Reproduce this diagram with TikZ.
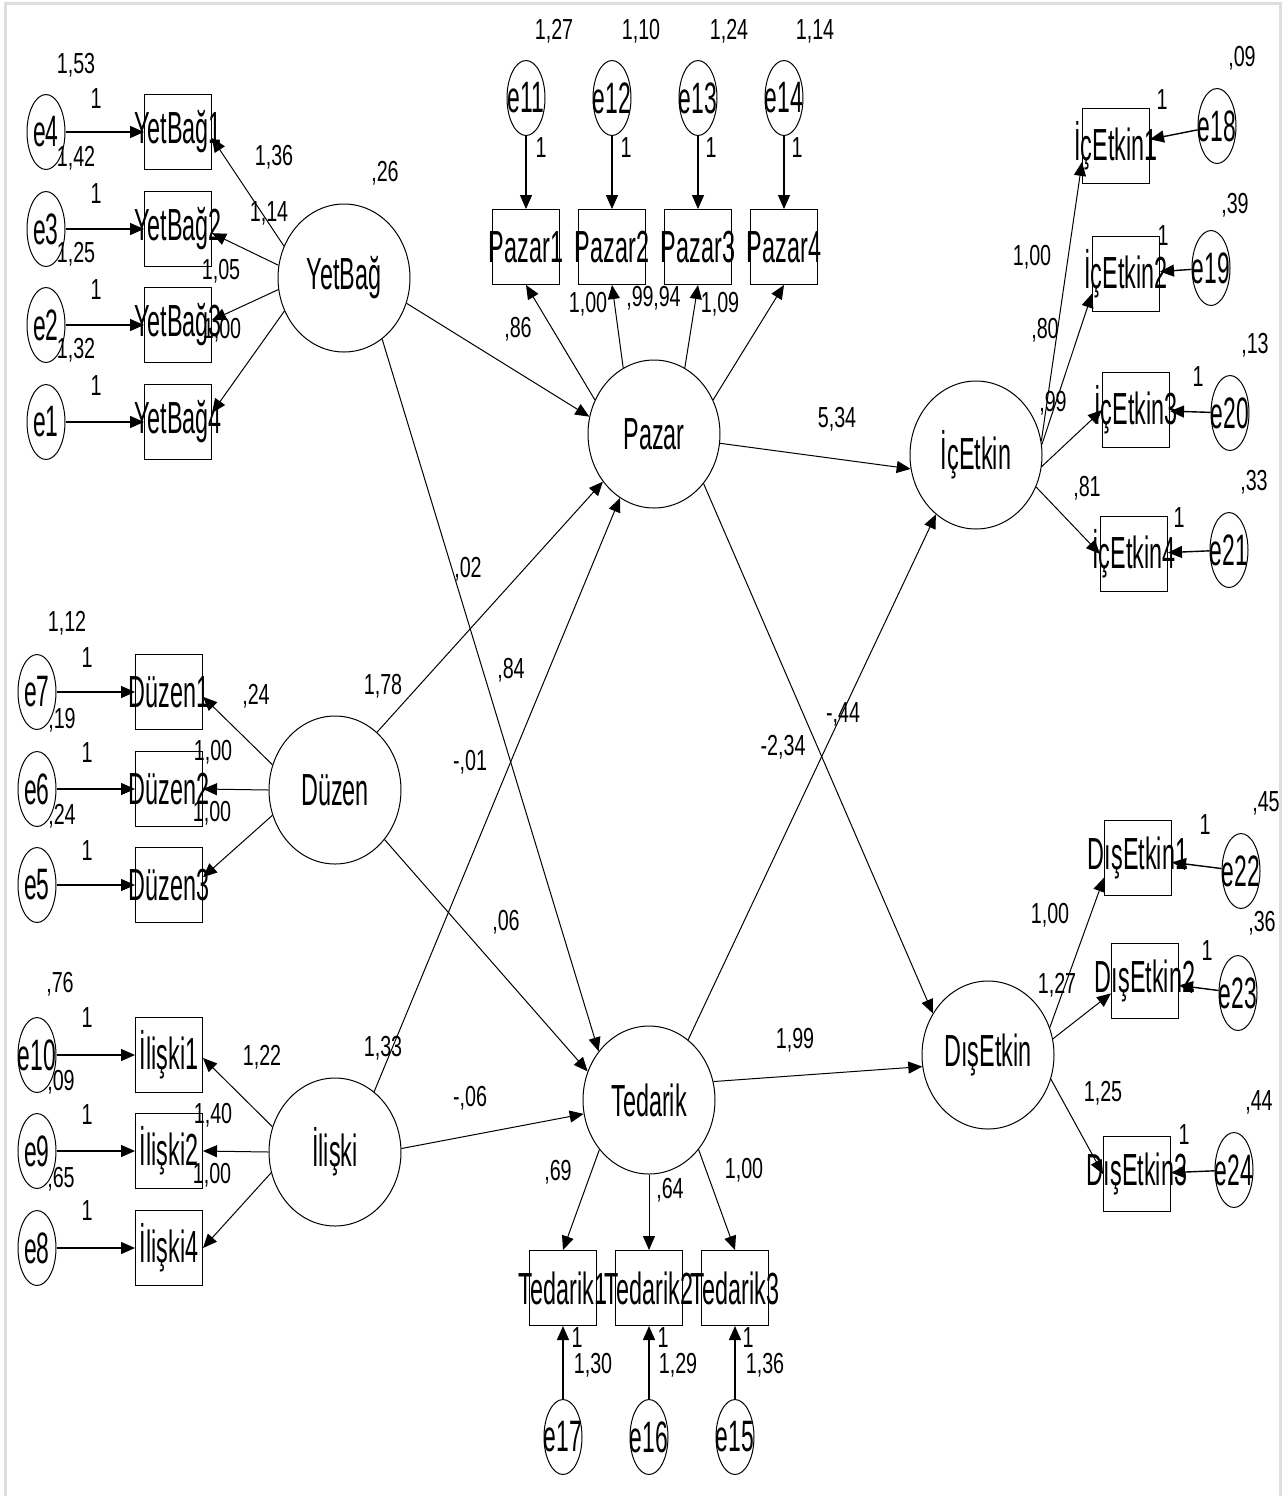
\documentclass[tikz,border=0pt]{standalone}
\usepackage{fontspec}
\setmainfont{Liberation Sans}[FakeStretch=0.52]
\newfontfamily\numfont{Liberation Sans}[FakeStretch=0.68]
\usetikzlibrary{shapes.geometric,arrows.meta}
\begin{document}
\begin{tikzpicture}[x=0.5pt,y=-0.5pt,
		every node/.append style={execute at begin node={\hbox to 0pt\bgroup\hss},execute at end node={\hss\egroup}},
		lat/.style={ellipse,draw,line width=0.5pt,minimum width=66pt,minimum height=74pt,inner sep=0pt,font=\fontsize{22.5}{22.5}\selectfont},
		err/.style={ellipse,draw,line width=0.5pt,minimum width=19pt,minimum height=37.5pt,inner sep=0pt,font=\fontsize{22}{22}\selectfont},
		obs/.style={rectangle,draw,line width=0.5pt,minimum width=33.5pt,minimum height=37.5pt,inner sep=0pt,font=\fontsize{22.5}{22.5}\selectfont},
		num/.style={inner sep=0pt,font=\numfont\fontsize{14.5}{14.5}\selectfont},
		arr/.style={-{Triangle[length=7pt,width=6pt]},line width=0.5pt}
	]
	\useasboundingbox (0,0) rectangle (1283,1496);
	\draw[black!13,line width=1.5pt] (5,1496) -- (5,3) -- (1280,3) -- (1280,1496);

	% latent variables
	\node[lat] (yet) at (344,278) {YetBağ};
	\node[lat] (duz) at (335,790) {Düzen};
	\node[lat] (ilis) at (335,1152) {İlişki};
	\node[lat] (paz) at (654,434) {Pazar};
	\node[lat] (ted) at (649,1100) {Tedarik};
	\node[lat] (ice) at (976,455) {İçEtkin};
	\node[lat] (dis) at (988,1055) {DışEtkin};

	% observed variables
	\foreach \n/\x/\y/\t in {yb1/178/132/YetBağ1,yb2/178/229/YetBağ2,yb3/178/325/YetBağ3,yb4/178/422/YetBağ4,
			dz1/169/692/Düzen1,dz2/169/789/Düzen2,dz3/169/885/Düzen3,
			il1/169/1055/İlişki1,il2/169/1151/İlişki2,il4/169/1248/İlişki4,
			pz1/526/247/Pazar1,pz2/612/247/Pazar2,pz3/698/247/Pazar3,pz4/784/247/Pazar4,
			td1/563/1288/Tedarik1,td2/649/1288/Tedarik2,td3/735/1288/Tedarik3,
			ic1/1116/146/İçEtkin1,ic2/1126/274/İçEtkin2,ic3/1136/410/İçEtkin3,ic4/1134/554/İçEtkin4,
			de1/1138/858/DışEtkin1,de2/1145/981/DışEtkin2,de3/1137/1174/DışEtkin3}
		\node[obs] (\n) at (\x,\y) {\t};

	% error terms
	\foreach \n/\x/\y in {e4/46/132,e3/46/229,e2/46/325,e1/46/422,
			e7/37/692,e6/37/789,e5/37/885,e10/37/1055,e9/37/1151,e8/37/1248,
			e11/526/98,e12/612/98,e13/698/98,e14/784/98,
			e17/563/1437,e16/649/1437,e15/735/1437,
			e18/1217/126,e19/1211/268,e20/1230/413,e21/1229/550,
			e22/1241/871,e23/1238/993,e24/1234/1170}
		\node[err] (\n) at (\x,\y) {\n};

	\foreach \a/\b in {e4/yb1,e3/yb2,e2/yb3,e1/yb4,e7/dz1,e6/dz2,e5/dz3,e10/il1,e9/il2,e8/il4,
			e11/pz1,e12/pz2,e13/pz3,e14/pz4,e17/td1,e16/td2,e15/td3,
			e18/ic1,e19/ic2,e20/ic3,e21/ic4,e22/de1,e23/de2,e24/de3}
		\draw[arr,line width=0.7pt] (\a) -- (\b);

	% loadings
	\foreach \a/\b in {yet.152/yb1.-10,yet.169/yb2.-7,yet.190/yb3.8,yet.209/yb4.15,
			duz.158/dz1.-8,duz.180/dz2.east,duz.202/dz3.13,
			ilis.158/il1.-5,ilis.180/il2.east,ilis.198/il4.east,
			paz.150/pz1.south,paz.115/pz2.south,paz.65/pz3.south,paz.30/pz4.south,
			ted.225/td1.north,ted.270/td2.north,ted.-45/td3.north,
			ice.12/ic1.205,ice.9/ic2.210,ice.-10/ic3.west,ice.-28/ic4.west,
			dis.24/de1.210,dis.14/de2.200,dis.-21/de3.west}
		\draw[arr] (\a) -- (\b);

	% structural paths
	\foreach \a/\b in {yet.-22/paz.165,duz.54/paz.223,ilis.57/paz.242,
			yet.-58/ted.136,duz.-45/ted.155,ilis.3/ted.192,
			paz.-8/ice.192,paz.-45/dis.143,ted.57/ice.236,ted.16/dis.190}
		\draw[arr] (\a) -- (\b);

	% estimates
	\foreach \x/\y/\t [count=\i] in {76/65/{1,53},96/99/1,76/158/{1,42},96/194/1,76/254/{1,25},96/290/1,76/350/{1,32},96/386/1,
			274/157/{1,36},269/213/{1,14},221/271/{1,05},222/330/{1,00},385/173/{,26},
			67/623/{1,12},87/658/1,62/720/{,19},87/753/1,62/816/{,24},87/851/1,
			256/696/{,24},213/752/{1,00},212/813/{1,00},383/686/{1,78},
			60/984/{,76},87/1018/1,61/1082/{,09},87/1115/1,61/1179/{,65},87/1211/1,
			262/1057/{1,22},213/1115/{1,40},212/1175/{1,00},383/1048/{1,33},
			554/31/{1,27},641/31/{1,10},729/31/{1,24},815/31/{1,14},
			541/148/1,626/148/1,711/148/1,797/148/1,
			518/329/{,86},588/304/{1,00},640/298/{,99},667/298/{,94},720/304/{1,09},
			558/1172/{,69},670/1190/{,64},744/1170/{1,00},
			577/1338/1,593/1365/{1,30},663/1338/1,678/1365/{1,29},748/1338/1,765/1365/{1,36},
			468/569/{,02},511/670/{,84},470/762/{-,01},506/922/{,06},470/1098/{-,06},
			837/419/{5,34},783/747/{-2,34},843/714/{-,44},795/1040/{1,99},
			1242/58/{,09},1162/100/1,1235/205/{,39},1163/236/1,1032/257/{1,00},
			1045/330/{,80},1053/403/{,99},1255/345/{,13},1198/377/1,
			1254/482/{,33},1179/518/1,1087/488/{,81},
			1266/803/{,45},1205/825/1,1050/915/{1,00},1262/923/{,36},1207/951/1,1057/985/{1,27},
			1103/1093/{1,25},1259/1102/{,44},1184/1135/1}
		\node[num] (v\i) at (\x,\y) {\t};
\end{tikzpicture}
\end{document}
